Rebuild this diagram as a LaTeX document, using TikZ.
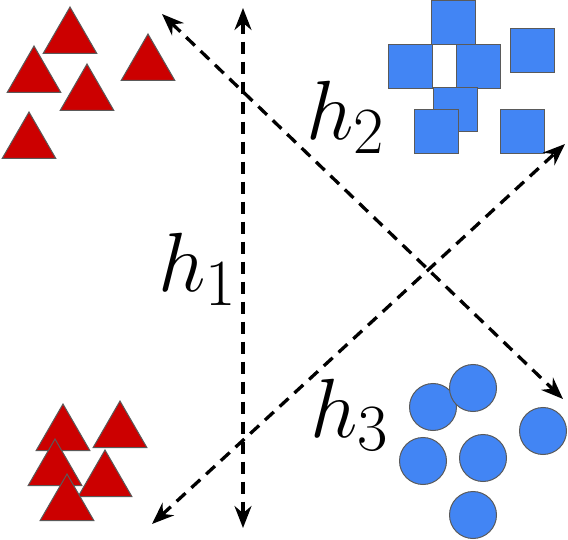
\RequirePackage{fix-cm}
\documentclass[tikz,border=0pt]{standalone}
\usepackage{tikz}
\usetikzlibrary{arrows.meta,shapes.geometric}
\usepackage{xcolor}
\definecolor{classRed}{HTML}{CC0000}
\definecolor{classBlue}{HTML}{4285F4}
\definecolor{edge}{HTML}{5A5A5A}
\DeclareMathSizes{84}{84}{66}{50}
\tikzset{
  shapebase/.style={draw=edge, line width=1pt, inner sep=0pt},
  redtri/.style={shapebase, fill=classRed, regular polygon, regular polygon sides=3, minimum size=62pt},
  bluesq/.style={shapebase, fill=classBlue, rectangle, minimum size=44pt},
  bluedot/.style={shapebase, fill=classBlue, circle, minimum size=47pt},
  sepline/.style={{Stealth[length=22pt,width=17pt]}-{Stealth[length=22pt,width=17pt]}, line width=3.3pt, dash pattern=on 12pt off 8pt},
  hyplabel/.style={inner sep=0pt, anchor=base west, font=\fontsize{84}{96}\selectfont},
}

\begin{document}
\begin{tikzpicture}[x=1pt,y=-1pt]
  \useasboundingbox (0,0) rectangle (568,540);

  % red class, upper cluster
  \node[redtri] (ta) at (70,38) {};
  \node[redtri] (tb) at (34,77) {};
  \node[redtri] (tc) at (87,95) {};
  \node[redtri] (td) at (148,65) {};
  \node[redtri] (te) at (29,143) {};

  % red class, lower cluster
  \node[redtri] (tf) at (63,435) {};
  \node[redtri] (tg) at (120,432) {};
  \node[redtri] (th) at (55,470) {};
  \node[redtri] (ti) at (105,481) {};
  \node[redtri] (tj) at (67,505) {};

  % blue squares
  \node[bluesq] (sa) at (453,23) {};
  \node[bluesq] (sb) at (410,66.5) {};
  \node[bluesq] (sc) at (478.5,66.5) {};
  \node[bluesq] (sd) at (532,50.5) {};
  \node[bluesq] (se) at (455,109.5) {};
  \node[bluesq] (sf) at (436,131.5) {};
  \node[bluesq] (sg) at (522,131.5) {};

  % blue circles
  \node[bluedot] (ca) at (433,407) {};
  \node[bluedot] (cb) at (473,388) {};
  \node[bluedot] (cc) at (543,431) {};
  \node[bluedot] (cd) at (423,461) {};
  \node[bluedot] (ce) at (483,458) {};
  \node[bluedot] (cf) at (473,515) {};

  % separating lines
  \coordinate (hatop) at (243,8);
  \coordinate (habot) at (243,528);
  \coordinate (hbtop) at (162,14);
  \coordinate (hbbot) at (563,399);
  \coordinate (hcbot) at (152,524);
  \coordinate (hctop) at (565,144);
  \draw[sepline] (hatop) -- (habot);
  \draw[sepline] (hbtop) -- (hbbot);
  \draw[sepline] (hcbot) -- (hctop);

  \node[hyplabel] (la) at (158,292) {$h_1$};
  \node[hyplabel] (lb) at (306,140) {$h_2$};
  \node[hyplabel] (lc) at (310,437) {$h_3$};
\end{tikzpicture}
\end{document}
